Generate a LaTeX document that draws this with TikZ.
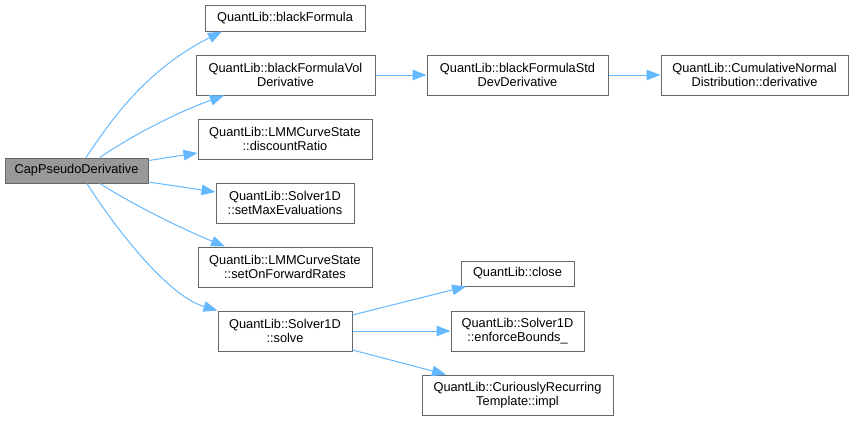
\documentclass[tikz,border=0pt]{standalone}
\usepackage{fontspec}
\setmainfont{Liberation Sans}
\usetikzlibrary{arrows.meta}
\definecolor{callblue}{HTML}{63B8FF}
\definecolor{boxgray}{HTML}{666666}
\definecolor{rootgray}{HTML}{999999}

\begin{document}
\begin{tikzpicture}[x=1pt, y=-1pt, >={Triangle[length=14pt,width=10.5pt]},
    fn/.style={draw=boxgray, fill=white, line width=1pt, inner sep=0pt, align=center,
        font=\fontsize{12.8}{14.5}\selectfont, minimum height=40pt},
    call/.style={->, draw=callblue, line width=1pt}]
    \useasboundingbox (0,0) rectangle (853,421);
    %define the functions
    \node[fn, fill=rootgray, minimum width=143pt, minimum height=25pt] (f1) at (76.5,170.5) {CapPseudoDerivative};
    \node[fn, minimum width=160pt, minimum height=26pt] (f2) at (285,18) {QuantLib::blackFormula};
    \node[fn, minimum width=179pt] (f3) at (285.5,75) {QuantLib::blackFormulaVol\\Derivative};
    \node[fn, minimum width=174pt] (f4) at (285,139) {QuantLib::LMMCurveState\\::discountRatio};
    \node[fn, minimum width=138pt] (f5) at (285,203) {QuantLib::Solver1D\\::setMaxEvaluations};
    \node[fn, minimum width=174pt] (f6) at (285,267) {QuantLib::LMMCurveState\\::setOnForwardRates};
    \node[fn, minimum width=134pt] (f7) at (285,331) {QuantLib::Solver1D\\::solve};
    \node[fn, minimum width=181pt] (f8) at (517.5,75) {QuantLib::blackFormulaStd\\DevDerivative};
    \node[fn, minimum width=187pt] (f9) at (754.5,75) {QuantLib::CumulativeNormal\\Distribution::derivative};
    \node[fn, minimum width=113pt, minimum height=25pt] (f10) at (517.5,273.5) {QuantLib::close};
    \node[fn, minimum width=133pt] (f11) at (517.5,331) {QuantLib::Solver1D\\::enforceBounds\_};
    \node[fn, minimum width=191pt] (f12) at (517.5,395) {QuantLib::CuriouslyRecurring\\Template::impl};

    %define the calls
    \draw[call] ([xshift=9.5pt]f1.north) .. controls (110,122) and (145,70) .. ([xshift=-63pt]f2.south);
    \draw[call] ([xshift=23.5pt]f1.north) .. controls (125,140) and (170,115) .. ([xshift=-61.5pt]f3.south);
    \draw[call] ([yshift=10pt]f1.east) -- ([yshift=-14pt]f4.west);
    \draw[call] ([yshift=-11.5pt]f1.east) -- ([yshift=11pt]f5.west);
    \draw[call] ([xshift=23.5pt]f1.south) .. controls (130,203) and (180,228) .. ([xshift=-60pt]f6.north);
    \draw[call] ([xshift=10.5pt]f1.south) .. controls (110,220) and (165,295) .. (f7.north west);
    \draw[call] (f3.east) -- (f8.west);
    \draw[call] (f8.east) -- (f9.west);
    \draw[call] ([yshift=16pt]f7.east) -- ([xshift=-51.5pt]f10.south);
    \draw[call] (f7.east) -- (f11.west);
    \draw[call] ([yshift=-19pt]f7.east) -- ([xshift=-71.5pt]f12.north);
\end{tikzpicture}
\end{document}
